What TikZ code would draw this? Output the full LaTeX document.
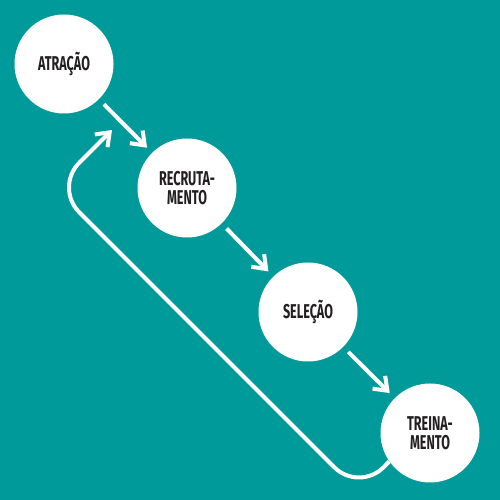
\documentclass[tikz,border=0pt]{standalone}
\usepackage{fontspec}
\setmainfont{Fira Sans}[FakeStretch=0.63]
\usetikzlibrary{arrows.meta}
\definecolor{bg}{HTML}{009A9A}
\definecolor{ink}{HTML}{231F20}
\begin{document}
\begin{tikzpicture}[x=1pt,y=1pt,
  stage/.style={circle,fill=white,minimum size=99pt,inner sep=0pt,text=ink,
    font=\fontsize{20}{18.5}\selectfont\bfseries,align=center},
  flow/.style={draw=white,line width=4pt,-{Straight Barb[length=12pt,width=18pt]},
    shorten <=7pt,shorten >=7pt},
  loopline/.style={draw=white,line width=4pt,rounded corners=35pt,
    -{Straight Barb[length=12pt,width=18pt]}}]
\fill[bg] (0,0) rectangle (500,500);
\useasboundingbox (0,0) rectangle (500,500);
\node[stage] (A) at (64,436) {ATRAÇÃO};
\node[stage] (B) at (187,312) {RECRUTA-\\MENTO};
\node[stage] (S) at (308,188) {SELEÇÃO};
\node[stage] (T) at (430,67) {TREINA-\\MENTO};
\coordinate (cb) at (359,8);
\coordinate (cl) at (54.5,312.5);
\coordinate (tip) at (112,370);
\draw[flow] (A) -- (B);
\draw[flow] (B) -- (S);
\draw[flow] (S) -- (T);
\draw[loopline] (T.215) -- (cb) -- (cl) -- (tip);
\end{tikzpicture}
\end{document}
